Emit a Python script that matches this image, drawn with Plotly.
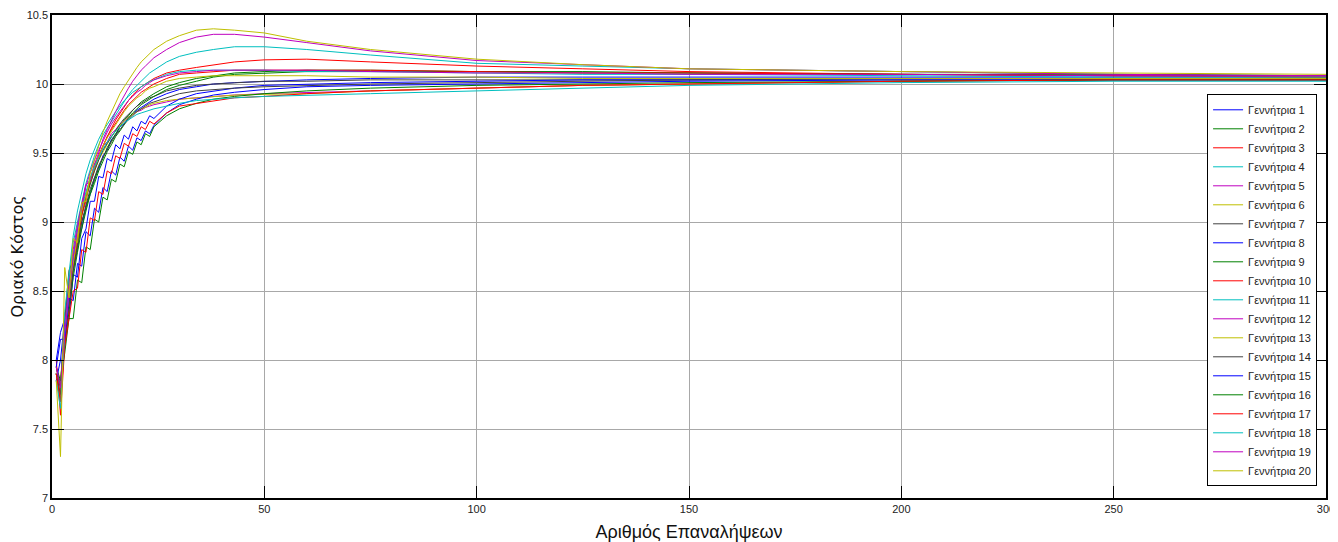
import plotly.graph_objects as go

iterations = [1, 2, 3, 4, 5, 6, 7, 8, 9, 10, 11, 12, 13, 14, 15, 16, 17, 18, 19, 20,
              21, 22, 23, 24, 27, 30, 34, 38, 43, 50, 60, 75, 100, 125, 150, 200, 250, 300]

gen1 = [8.0, 8.2, 8.3, 8.5, 8.65, 8.85, 8.95, 9.12, 9.2, 9.32, 9.38, 9.48, 9.52, 9.6, 9.63, 9.69, 9.71, 9.76, 9.78, 9.81,
        9.83, 9.85, 9.87, 9.89, 9.93, 9.96, 9.98, 10.0, 10.01, 10.02, 10.03, 10.04, 10.05, 10.05, 10.05, 10.05, 10.05, 10.05]
gen2 = [7.95, 7.85, 8.2, 8.4, 8.65, 8.8, 9.0, 9.1, 9.22, 9.3, 9.4, 9.46, 9.54, 9.59, 9.65, 9.69, 9.74, 9.77, 9.81, 9.84,
        9.87, 9.89, 9.91, 9.93, 9.98, 10.01, 10.04, 10.06, 10.08, 10.09, 10.1, 10.1, 10.09, 10.09, 10.08, 10.07, 10.06, 10.06]
gen3 = [8.0, 7.6, 8.1, 8.4, 8.7, 8.85, 9.05, 9.15, 9.3, 9.38, 9.48, 9.55, 9.62, 9.68, 9.74, 9.79, 9.84, 9.88, 9.92, 9.95,
        9.98, 10.0, 10.02, 10.04, 10.08, 10.1, 10.12, 10.14, 10.16, 10.175, 10.18, 10.16, 10.13, 10.11, 10.09, 10.07, 10.06, 10.05]
gen4 = [7.85, 7.7, 8.3, 8.6, 8.85, 9.0, 9.15, 9.28, 9.38, 9.48, 9.56, 9.63, 9.68, 9.73, 9.78, 9.83, 9.88, 9.92, 9.96, 9.99,
        10.02, 10.05, 10.08, 10.1, 10.16, 10.2, 10.23, 10.25, 10.27, 10.27, 10.25, 10.21, 10.15, 10.13, 10.11, 10.09, 10.07, 10.06]
gen5 = [7.95, 7.8, 8.3, 8.55, 8.8, 8.98, 9.12, 9.27, 9.3, 9.42, 9.47, 9.55, 9.58, 9.64, 9.67, 9.71, 9.73, 9.76, 9.78, 9.8,
        9.81, 9.83, 9.84, 9.85, 9.87, 9.89, 9.9, 9.91, 9.92, 9.93, 9.94, 9.95, 9.97, 9.99, 10.0, 10.02, 10.03, 10.03]
gen6 = [7.9, 7.85, 8.15, 8.45, 8.7, 8.88, 9.05, 9.18, 9.28, 9.37, 9.45, 9.51, 9.57, 9.62, 9.66, 9.7, 9.73, 9.76, 9.78, 9.8,
        9.82, 9.83, 9.85, 9.86, 9.88, 9.89, 9.9, 9.91, 9.92, 9.925, 9.93, 9.95, 9.97, 9.99, 10.0, 10.02, 10.03, 10.03]
gen7 = [7.95, 7.8, 8.3, 8.65, 8.72, 8.9, 9.05, 9.18, 9.28, 9.37, 9.45, 9.52, 9.57, 9.62, 9.67, 9.71, 9.75, 9.78, 9.81, 9.84,
        9.86, 9.88, 9.9, 9.91, 9.95, 9.97, 9.99, 10.0, 10.01, 10.02, 10.02, 10.03, 10.03, 10.03, 10.03, 10.04, 10.04, 10.04]
gen8 = [7.85, 8.0, 8.3, 8.3, 8.62, 8.6, 8.88, 8.95, 9.15, 9.15, 9.33, 9.32, 9.46, 9.44, 9.56, 9.53, 9.63, 9.6, 9.69, 9.66,
        9.73, 9.71, 9.77, 9.75, 9.84, 9.89, 9.93, 9.95, 9.97, 9.99, 10.0, 10.01, 10.02, 10.03, 10.03, 10.04, 10.04, 10.04]
gen9 = [7.9, 7.8, 8.1, 8.35, 8.6, 8.78, 8.95, 9.08, 9.2, 9.28, 9.37, 9.44, 9.51, 9.56, 9.62, 9.66, 9.71, 9.75, 9.79, 9.82,
        9.85, 9.87, 9.89, 9.91, 9.96, 9.99, 10.02, 10.05, 10.07, 10.08, 10.09, 10.09, 10.09, 10.08, 10.08, 10.07, 10.07, 10.06]
gen10 = [7.9, 7.7, 8.15, 8.4, 8.7, 8.88, 9.05, 9.2, 9.3, 9.4, 9.48, 9.55, 9.62, 9.67, 9.72, 9.77, 9.81, 9.85, 9.88, 9.91,
         9.94, 9.96, 9.98, 10.0, 10.04, 10.07, 10.08, 10.09, 10.1, 10.1, 10.1, 10.1, 10.09, 10.08, 10.08, 10.07, 10.06, 10.05]
gen11 = [7.9, 7.75, 8.35, 8.65, 8.9, 9.08, 9.22, 9.35, 9.45, 9.53, 9.6, 9.66, 9.71, 9.76, 9.8, 9.84, 9.88, 9.91, 9.94, 9.96,
         9.98, 10.0, 10.02, 10.03, 10.07, 10.09, 10.1, 10.1, 10.1, 10.1, 10.09, 10.09, 10.08, 10.07, 10.07, 10.06, 10.05, 10.05]
gen12 = [7.9, 7.75, 8.25, 8.5, 8.75, 8.95, 9.1, 9.27, 9.3, 9.42, 9.5, 9.6, 9.67, 9.74, 9.8, 9.86, 9.92, 9.97, 10.02, 10.06,
         10.1, 10.13, 10.16, 10.19, 10.25, 10.3, 10.34, 10.36, 10.36, 10.34, 10.3, 10.24, 10.17, 10.14, 10.11, 10.09, 10.07, 10.06]
gen13 = [7.9, 7.75, 8.2, 8.45, 8.7, 8.9, 9.08, 9.2, 9.32, 9.4, 9.48, 9.55, 9.61, 9.66, 9.71, 9.76, 9.8, 9.84, 9.87, 9.9,
         9.92, 9.95, 9.97, 9.98, 10.02, 10.04, 10.05, 10.06, 10.06, 10.06, 10.06, 10.05, 10.05, 10.04, 10.04, 10.04, 10.04, 10.04]
gen14 = [7.9, 7.75, 8.2, 8.4, 8.65, 8.82, 9.0, 9.12, 9.24, 9.32, 9.41, 9.47, 9.53, 9.58, 9.63, 9.67, 9.71, 9.74, 9.77, 9.8,
         9.82, 9.84, 9.86, 9.87, 9.9, 9.93, 9.95, 9.96, 9.97, 9.98, 9.99, 10.0, 10.01, 10.02, 10.03, 10.03, 10.03, 10.03]
gen15 = [7.95, 8.15, 8.15, 8.45, 8.43, 8.7, 8.68, 8.93, 8.9, 9.1, 9.07, 9.25, 9.22, 9.37, 9.34, 9.47, 9.44, 9.55, 9.52, 9.61,
         9.59, 9.66, 9.64, 9.7, 9.79, 9.85, 9.89, 9.92, 9.94, 9.96, 9.98, 9.99, 10.0, 10.01, 10.02, 10.03, 10.03, 10.03]
gen16 = [7.9, 7.85, 8.05, 8.3, 8.3, 8.58, 8.56, 8.82, 8.8, 9.02, 9.0, 9.18, 9.16, 9.31, 9.29, 9.42, 9.4, 9.51, 9.49, 9.58,
         9.56, 9.64, 9.62, 9.69, 9.77, 9.82, 9.86, 9.89, 9.91, 9.93, 9.95, 9.97, 9.99, 10.0, 10.01, 10.02, 10.03, 10.03]
gen17 = [7.9, 7.7, 8.1, 8.3, 8.5, 8.52, 8.8, 8.78, 9.03, 9.01, 9.22, 9.2, 9.37, 9.35, 9.48, 9.46, 9.57, 9.55, 9.64, 9.62,
         9.69, 9.67, 9.73, 9.71, 9.79, 9.84, 9.86, 9.88, 9.9, 9.91, 9.93, 9.95, 9.97, 9.99, 10.0, 10.02, 10.03, 10.03]
gen18 = [7.85, 7.65, 8.2, 8.5, 8.75, 8.95, 9.1, 9.22, 9.32, 9.4, 9.47, 9.53, 9.58, 9.62, 9.66, 9.69, 9.72, 9.74, 9.76, 9.78,
         9.79, 9.8, 9.81, 9.82, 9.84, 9.86, 9.88, 9.89, 9.9, 9.91, 9.92, 9.93, 9.95, 9.97, 9.99, 10.01, 10.02, 10.02]
gen19 = [7.95, 7.8, 8.2, 8.5, 8.75, 8.95, 9.12, 9.26, 9.36, 9.45, 9.52, 9.59, 9.65, 9.71, 9.76, 9.8, 9.84, 9.88, 9.91, 9.94,
         9.96, 9.99, 10.01, 10.03, 10.06, 10.08, 10.09, 10.1, 10.1, 10.1, 10.1, 10.09, 10.08, 10.08, 10.07, 10.07, 10.06, 10.06]
gen20 = [7.85, 7.3, 8.67, 8.45, 8.88, 8.85, 9.14, 9.15, 9.35, 9.45, 9.56, 9.65, 9.73, 9.8, 9.87, 9.93, 9.98, 10.03, 10.08, 10.12,
         10.16, 10.19, 10.22, 10.25, 10.31, 10.35, 10.39, 10.4, 10.39, 10.37, 10.31, 10.25, 10.18, 10.14, 10.11, 10.09, 10.08, 10.07]

series = [gen1, gen2, gen3, gen4, gen5, gen6, gen7, gen8, gen9, gen10,
          gen11, gen12, gen13, gen14, gen15, gen16, gen17, gen18, gen19, gen20]
names = ["Γεννήτρια %d" % (i + 1) for i in range(20)]
palette = ["#0000ff", "#008000", "#ff0000", "#00bfbf", "#bf00bf", "#bfbf00", "#404040"]

fig = go.Figure()
for i, ys in enumerate(series):
    fig.add_trace(go.Scatter(
        x=iterations, y=ys, mode="lines", name=names[i],
        line=dict(color=palette[i % 7], width=1),
    ))

tick_font = dict(family="Liberation Sans, Arial", size=11, color="#222")

# the page body has an 8px margin, so the figure is sized 8px smaller
fig.update_layout(
    width=1330, height=534,
    margin=dict(l=44, r=12, t=7, b=44),
    paper_bgcolor="white", plot_bgcolor="white",
    showlegend=True,
    legend=dict(
        x=0.993, y=0.43, xanchor="right", yanchor="middle",
        bgcolor="white", bordercolor="black", borderwidth=1,
        font=dict(family="Liberation Sans, Arial", size=11, color="#222"),
        tracegroupgap=0, itemwidth=30,
    ),
    xaxis=dict(
        range=[0, 300], dtick=50, tick0=0,
        showgrid=True, gridcolor="#a8a8a8", gridwidth=1,
        showline=True, linecolor="black", linewidth=1.5, mirror="ticks",
        ticks="inside", ticklen=12, tickcolor="black", tickwidth=1,
        tickfont=tick_font, zeroline=False,
        title=dict(text="Αριθμός Επαναλήψεων",
                   font=dict(family="Liberation Sans, Arial", size=18, color="#111"),
                   standoff=11),
        automargin=False,
    ),
    yaxis=dict(
        range=[7, 10.5], dtick=0.5, tick0=7,
        showgrid=True, gridcolor="#a8a8a8", gridwidth=1,
        showline=True, linecolor="black", linewidth=1.5, mirror="ticks",
        ticks="inside", ticklen=12, tickcolor="black", tickwidth=1,
        tickfont=tick_font, zeroline=False,
        title=dict(text="Οριακό Κόστος",
                   font=dict(family="DejaVu Sans, Liberation Sans", size=16, color="#111"),
                   standoff=5),
        automargin=False,
    ),
)

fig.write_html("out.html")
